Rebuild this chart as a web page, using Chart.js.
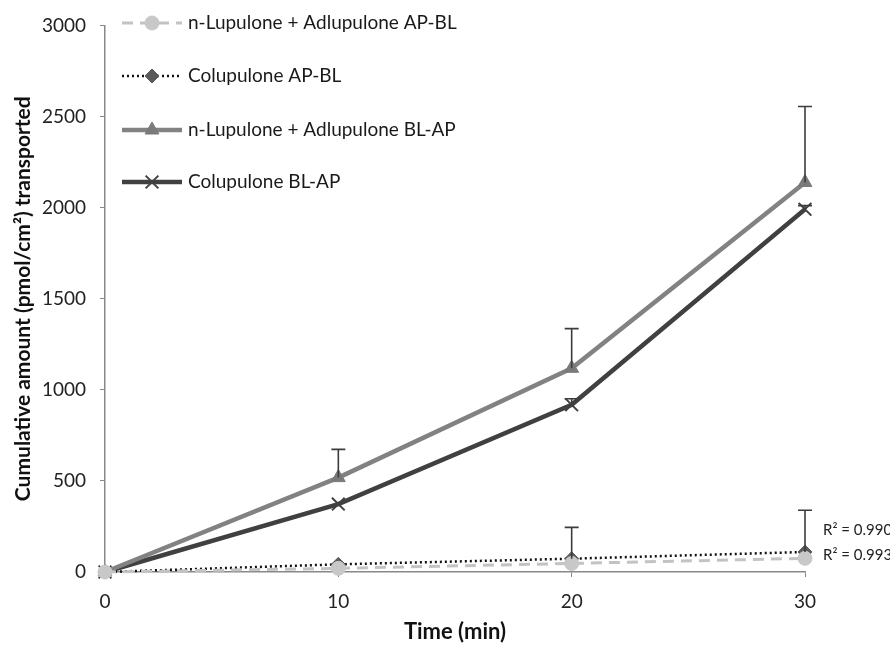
<!DOCTYPE html>
<html>
<head>
<meta charset="utf-8">
<script src="https://cdn.jsdelivr.net/npm/chart.js@4.4.1/dist/chart.umd.min.js"></script>
<style>
  body { margin: 0; background: #fff; }
  #wrap { width: 890px; height: 645px; }
</style>
</head>
<body>
<div id="wrap"><canvas id="transportChart" width="890" height="645"></canvas></div>
<script>
const FONT = "Lato, 'Open Sans', sans-serif";

const times = [0, 10, 20, 30];
const seriesLabels = [
  "n-Lupulone + Adlupulone AP-BL",
  "Colupulone AP-BL",
  "n-Lupulone + Adlupulone BL-AP",
  "Colupulone BL-AP",
];
const lupAPBL = [0, 20, 47, 75];
const coluAPBL = [0, 42, 73, 110];
const lupBLAP = [0, 518, 1118, 2138];
const coluBLAP = [0, 373, 918, 1991];

// upward error bars (SD)
const lupAPBLErr = [0, 0, 0, 0];
const coluAPBLErr = [0, 0, 172, 229];
const lupBLAPErr = [0, 155, 218, 417];
const coluBLAPErr = [0, 0, 33, 20];

const rSquared = ["R² = 0.990", "R² = 0.993"]; // Colupulone AP-BL, n-Lupulone AP-BL

function toPoints(values) {
  return values.map((v, i) => ({ x: times[i], y: v }));
}

const seriesStyles = [
  { color: "#c3c3c3", pointColor: "#c8c8c8", dash: [11, 7], width: 3, pointStyle: "circle", radius: 7 },
  { color: "#111111", pointColor: "#5b5b5b", dash: [2, 3], width: 2.5, pointStyle: "rectRot", radius: 7 },
  { color: "#828282", pointColor: "#7a7a7a", dash: [], width: 4.5, pointStyle: "triangle", radius: 8 },
  { color: "#404040", pointColor: "#404040", dash: [], width: 4.5, pointStyle: "crossRot", radius: 9 },
];
const allValues = [lupAPBL, coluAPBL, lupBLAP, coluBLAP];
const allErrors = [lupAPBLErr, coluAPBLErr, lupBLAPErr, coluBLAPErr];

const errorBars = {
  id: "errorBars",
  afterDatasetsDraw(chart) {
    const ctx = chart.ctx;
    const xs = chart.scales.x;
    const ys = chart.scales.y;
    ctx.save();
    ctx.strokeStyle = "#3c3c3c";
    ctx.lineWidth = 1.6;
    allErrors.forEach((errs, d) => {
      errs.forEach((e, i) => {
        if (!e) return;
        const px = xs.getPixelForValue(times[i]);
        const y0 = ys.getPixelForValue(allValues[d][i]);
        const y1 = ys.getPixelForValue(allValues[d][i] + e);
        ctx.beginPath();
        ctx.moveTo(px, y0);
        ctx.lineTo(px, y1);
        ctx.moveTo(px - 7, y1);
        ctx.lineTo(px + 7, y1);
        ctx.stroke();
      });
    });
    ctx.restore();
  },
};

const sideLegend = {
  id: "sideLegend",
  afterDraw(chart) {
    const ctx = chart.ctx;
    const rows = [23, 76, 130, 182];
    ctx.save();
    seriesLabels.forEach((label, i) => {
      const s = seriesStyles[i];
      const y = rows[i];
      ctx.strokeStyle = s.color;
      ctx.lineWidth = s.width;
      ctx.setLineDash(s.dash);
      ctx.beginPath();
      ctx.moveTo(122, y);
      ctx.lineTo(182, y);
      ctx.stroke();
      ctx.setLineDash([]);
      ctx.fillStyle = s.pointColor;
      ctx.strokeStyle = s.pointColor;
      ctx.lineWidth = s.pointStyle === "crossRot" ? 2 : 1;
      Chart.helpers.drawPoint(ctx, {
        pointStyle: s.pointStyle,
        radius: s.radius,
        borderWidth: ctx.lineWidth,
      }, 152, y);
      ctx.fillStyle = "#1a1a1a";
      ctx.font = "19px " + FONT;
      ctx.textAlign = "left";
      ctx.textBaseline = "middle";
      ctx.fillText(label, 188, y);
    });
    ctx.restore();
  },
};

const trendLabels = {
  id: "trendLabels",
  afterDraw(chart) {
    const ctx = chart.ctx;
    const xs = chart.scales.x;
    const ys = chart.scales.y;
    const last = times.length - 1;
    const px = xs.getPixelForValue(times[last]) + 18;
    ctx.save();
    ctx.fillStyle = "#222";
    ctx.font = "15px " + FONT;
    ctx.textAlign = "left";
    ctx.textBaseline = "middle";
    ctx.fillText(rSquared[0], px, ys.getPixelForValue(coluAPBL[last]) - 22);
    ctx.fillText(rSquared[1], px, ys.getPixelForValue(lupAPBL[last]) - 3);
    ctx.restore();
  },
};

new Chart(document.getElementById("transportChart"), {
  type: "line",
  data: {
    datasets: allValues.map((vals, i) => ({
      label: seriesLabels[i],
      data: toPoints(vals),
      borderColor: seriesStyles[i].color,
      borderWidth: seriesStyles[i].width,
      borderDash: seriesStyles[i].dash,
      pointStyle: seriesStyles[i].pointStyle,
      pointRadius: seriesStyles[i].radius,
      pointBackgroundColor: seriesStyles[i].pointColor,
      pointBorderColor: seriesStyles[i].pointColor,
      pointBorderWidth: seriesStyles[i].pointStyle === "crossRot" ? 2 : 1,
      tension: 0,
      clip: false,
    })),
  },
  options: {
    responsive: false,
    animation: false,
    layout: { padding: { top: 21, right: 85, left: 0, bottom: 0 } },
    plugins: {
      legend: { display: false },
      tooltip: { enabled: false },
    },
    scales: {
      x: {
        type: "linear",
        min: 0,
        max: 30,
        afterFit: (scale) => { scale.height = 73; },
        ticks: { stepSize: 10, padding: 13, color: "#222", font: { family: FONT, size: 19 }, callback: (v) => String(v) },
        grid: { drawOnChartArea: false, tickLength: 5, color: "#888" },
        border: { color: "#888", width: 1.5 },
        title: {
          display: true,
          text: "Time (min)",
          color: "#111",
          font: { family: FONT, size: 22, weight: "bold" },
          padding: { top: 0, bottom: 0 },
        },
      },
      y: {
        min: 0,
        max: 3000,
        afterFit: (scale) => { scale.width = 105; },
        ticks: { stepSize: 500, padding: 14, color: "#222", font: { family: FONT, size: 19 }, callback: (v) => String(v) },
        grid: { drawOnChartArea: false, tickLength: 5, color: "#888" },
        border: { color: "#888", width: 1.5 },
        title: {
          display: true,
          text: "Cumulative amount (pmol/cm²) transported",
          color: "#111",
          font: { family: FONT, size: 21, weight: "bold" },
          padding: { top: 11, bottom: 0 },
        },
      },
    },
  },
  plugins: [errorBars, sideLegend, trendLabels],
});
</script>
</body>
</html>
